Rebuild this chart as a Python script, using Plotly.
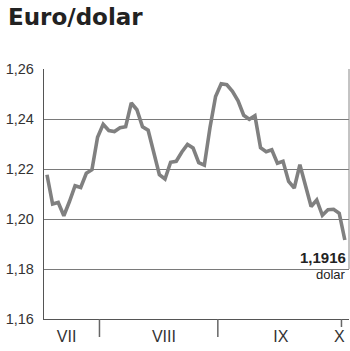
import plotly.graph_objects as go

# Euro/dollar daily rate (trading days, early July - early October)
rates = [1.2177, 1.2060, 1.2066, 1.2013, 1.2070, 1.2133, 1.2126, 1.2183, 1.2197, 1.2327,
         1.2379, 1.2354, 1.2350, 1.2365, 1.2369, 1.2464, 1.2437, 1.2369, 1.2355, 1.2267,
         1.2177, 1.2160, 1.2227, 1.2231, 1.2268, 1.2298, 1.2284, 1.2225, 1.2215, 1.2365,
         1.2490, 1.2541, 1.2537, 1.2511, 1.2473, 1.2415, 1.2399, 1.2413, 1.2285, 1.2269,
         1.2277, 1.2223, 1.2231, 1.2150, 1.2124, 1.2217, 1.2137, 1.2050, 1.2076, 1.2015,
         1.2037, 1.2039, 1.2023, 1.1916]
days = list(range(len(rates)))

# month boundaries (in trading-day index units) and month labels
month_bounds = [9.34, 30.4, 52.4]
bound_len = [18, 18, 8]
month_label_pos = [3.5, 20.8, 41.6, 52.0]
month_labels = ["VII", "VIII", "IX", "X"]

y_ticks = [1.16, 1.18, 1.20, 1.22, 1.24, 1.26]
y_ticktext = ["1,16", "1,18", "1,20", "1,22", "1,24", "1,26"]

last_label = "1,1916"
unit_label = "dolar"
title_text = "Euro/dolar"

PLOT_W = 305
PLOT_H = 250

fig = go.Figure()
fig.add_trace(go.Scatter(
    x=days, y=rates, mode="lines",
    line=dict(color="#808080", width=3.6, shape="linear"),
    hoverinfo="skip", showlegend=False,
))

shapes = []
for b, ln in zip(month_bounds, bound_len):
    shapes.append(dict(type="line", xref="x", yref="paper", x0=b, x1=b,
                       y0=0, y1=-ln / PLOT_H, line=dict(color="#666666", width=1.5)))
# right border line from 1,18 up to top
shapes.append(dict(type="line", xref="paper", yref="y", x0=1, x1=1, y0=1.18, y1=1.26,
                   line=dict(color="#888888", width=1)))

annotations = [
    dict(text="<b>" + title_text + "</b>", xref="paper", yref="paper", x=-38 / PLOT_W,
         y=(319 - 17) / PLOT_H, xanchor="left", yanchor="middle", showarrow=False,
         font=dict(family="DejaVu Sans", size=23, color="#222222")),
    dict(text="<b>" + last_label + "</b>", xref="paper", yref="paper", x=1 - 1 / PLOT_W,
         y=(319 - 257) / PLOT_H, xanchor="right", yanchor="middle", showarrow=False,
         font=dict(family="Liberation Sans", size=15, color="#222222")),
    dict(text=unit_label, xref="paper", yref="paper", x=1 - 1 / PLOT_W,
         y=(319 - 274) / PLOT_H, xanchor="right", yanchor="middle", showarrow=False,
         font=dict(family="Liberation Sans", size=13, color="#222222")),
]

fig.update_layout(
    width=350, height=351,
    margin=dict(l=44, r=1, t=69, b=32),
    paper_bgcolor="white", plot_bgcolor="white",
    shapes=shapes, annotations=annotations,
    xaxis=dict(range=[-0.53, 53.74], tickvals=month_label_pos, ticktext=month_labels,
               showgrid=False, zeroline=False, showline=True, linecolor="#555555", linewidth=1.3,
               ticks="", ticklabelstandoff=3,
               tickfont=dict(family="Liberation Sans", size=16, color="#333333")),
    yaxis=dict(range=[1.16, 1.26], tickvals=y_ticks, ticktext=y_ticktext,
               showgrid=True, gridcolor="#7a7a7a", gridwidth=1, zeroline=False,
               showline=True, linecolor="#555555", linewidth=1.3,
               ticks="", ticklabelstandoff=6,
               tickfont=dict(family="Liberation Sans", size=14.5, color="#333333")),
)

fig.write_html("out.html")
